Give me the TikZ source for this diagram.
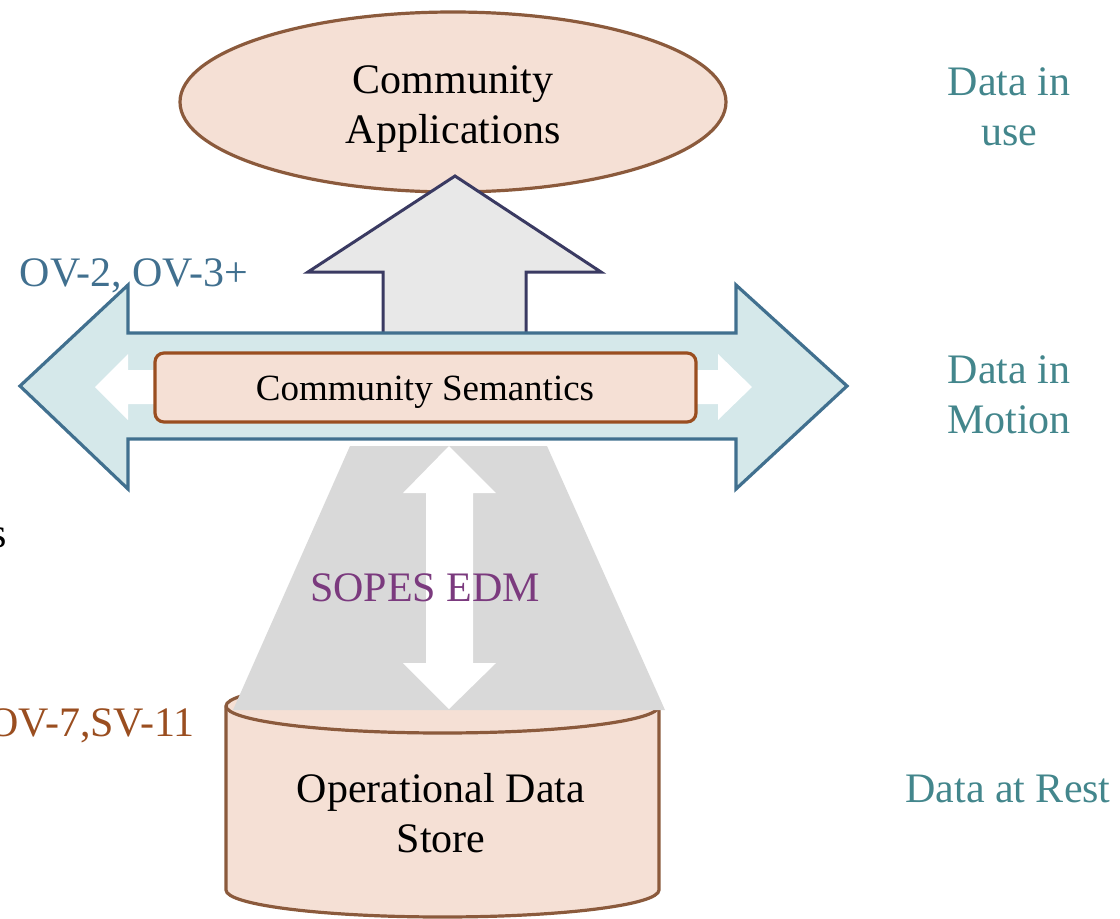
\documentclass[tikz,border=0pt]{standalone}
\usepackage{fontspec}
\usetikzlibrary{shapes.geometric}
\setmainfont{Liberation Serif}
\definecolor{peach}{HTML}{F5E0D5}
\definecolor{brownline}{HTML}{8B5A3C}
\definecolor{rust}{HTML}{9A4E20}
\definecolor{steel}{HTML}{41708F}
\definecolor{paleblue}{HTML}{D5E8EA}
\definecolor{navy}{HTML}{3A3A62}
\definecolor{lightgrey}{HTML}{E8E8E8}
\definecolor{midgrey}{HTML}{D9D9D9}
\definecolor{teal}{HTML}{43868C}
\definecolor{plum}{HTML}{7B3A7E}
\tikzset{
  bigtext/.style={font=\fontsize{42}{50}\selectfont, align=center, inner sep=0pt},
  midtext/.style={font=\fontsize{37}{44}\selectfont, align=center, inner sep=0pt},
  sidelabel/.style={bigtext, text=teal},
}
\begin{document}
\begin{tikzpicture}[x=1pt,y=-1pt]
\useasboundingbox (0,0) rectangle (1120,919);
% top ellipse
\node[draw=brownline, fill=peach, line width=3.2pt, ellipse, minimum width=546pt, minimum height=180pt, inner sep=0pt] (apps) at (453,102) {};
\node[bigtext] (appstxt) at (453,109) {Community\\Applications};
% up arrow
\draw[navy, fill=lightgrey, line width=3pt, line join=miter]
  (383,333) -- (383,272) -- (308,272) -- (455,176) -- (601,272) -- (526,272) -- (526,333);
% horizontal double arrow
\draw[steel, fill=paleblue, line width=3.2pt, line join=miter]
  (20,386) -- (128,285) -- (128,333) -- (736,333) -- (736,285) -- (847,386)
  -- (736,489) -- (736,439) -- (128,439) -- (128,489) -- cycle;
% small white arrows
\fill[white] (160,370) -- (128,370) -- (128,354) -- (95,387) -- (128,420) -- (128,404) -- (160,404) -- cycle;
\fill[white] (690,370) -- (718,370) -- (718,354) -- (752,387) -- (718,420) -- (718,404) -- (690,404) -- cycle;
% semantics box
\node[draw=rust, fill=peach, line width=3.2pt, rounded corners=9pt, minimum width=541pt, minimum height=69pt, inner sep=0pt] (sem) at (425.5,387.5) {};
\node[midtext] (semtxt) at (425,392) {Community Semantics};
% cylinder
\draw[brownline, fill=peach, line width=3.2pt]
  (226,706) -- (226,890) arc[start angle=180, end angle=360, x radius=216.5pt, y radius=27pt]
  -- (659,706) arc[start angle=0, end angle=180, x radius=216.5pt, y radius=27pt] -- cycle;
\draw[brownline, line width=3.2pt] (226,706) arc[start angle=180, end angle=360, x radius=216.5pt, y radius=27pt];
\node[bigtext] (ods) at (441,813) {Operational Data\\Store};
% grey trapezoid
\fill[midgrey] (350,446) -- (547,446) -- (665,710) -- (233,710) -- cycle;
% white vertical double arrow
\fill[white] (449,446) -- (496,493) -- (473,493) -- (473,663) -- (496,663) -- (449,709)
  -- (403,663) -- (426,663) -- (426,493) -- (403,493) -- cycle;
\node[bigtext, text=plum] (edm) at (425,588) {SOPES EDM};
% side labels
\node[sidelabel] (use) at (1009,107) {Data in\\use};
\node[sidelabel] (motion) at (1009,395) {Data in\\Motion};
\node[sidelabel] (rest) at (1008,789) {Data at Rest};
\node[bigtext, text=steel] (ov2) at (134,276) {OV-2, OV-3+};
\node[bigtext, text=rust, anchor=east] (ov7) at (195,726) {OV-7,SV-11};
\node[bigtext, anchor=base east] (s) at (7,547) {s};
\end{tikzpicture}
\end{document}
